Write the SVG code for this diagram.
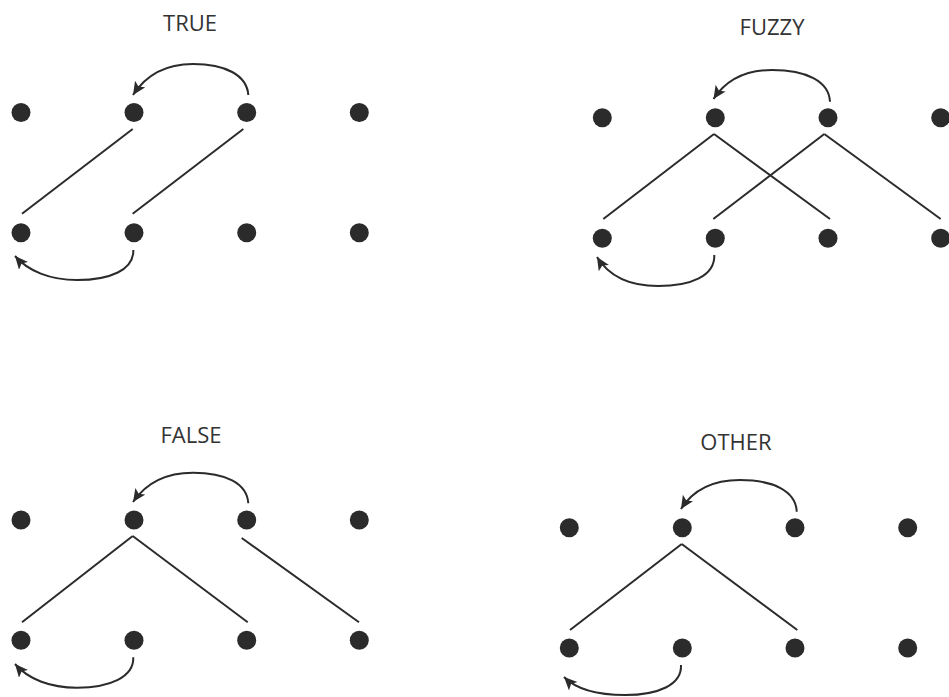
<svg xmlns="http://www.w3.org/2000/svg" width="949" height="697" viewBox="0 0 949 697">
<style>
.dot{fill:#2b2b2b}
.ln{stroke:#2b2b2b;stroke-width:2;fill:none}
.arc{stroke:#2b2b2b;stroke-width:2;fill:none;marker-end:url(#ah)}
.lbl{font-family:"Open Sans","Liberation Sans",sans-serif;font-size:22px;fill:#333;text-anchor:middle}
</style>
<defs>
<marker id="ah" markerUnits="userSpaceOnUse" markerWidth="16" markerHeight="14" refX="13" refY="6" orient="auto"><path d="M0,0 L13,6 L0,12 L3,6 Z" fill="#2b2b2b"/></marker>
</defs>
<rect width="949" height="697" fill="#fff"/>
<g id="labels">
<text class="lbl" x="190" y="31">TRUE</text>
<text class="lbl" x="772" y="35">FUZZY</text>
<text class="lbl" x="191" y="443">FALSE</text>
<text class="lbl" x="736" y="450">OTHER</text>
</g>
<g id="true-panel">
<g id="t-a1"><circle class="dot" cx="21" cy="112.5" r="9.5"/></g>
<g id="t-a2"><circle class="dot" cx="134" cy="112.5" r="9.5"/></g>
<g id="t-a3"><circle class="dot" cx="246.7" cy="112.5" r="9.5"/></g>
<g id="t-a4"><circle class="dot" cx="359.3" cy="112.5" r="9.5"/></g>
<g id="t-b1"><circle class="dot" cx="21" cy="232.7" r="9.5"/></g>
<g id="t-b2"><circle class="dot" cx="134" cy="232.7" r="9.5"/></g>
<g id="t-b3"><circle class="dot" cx="246.7" cy="232.7" r="9.5"/></g>
<g id="t-b4"><circle class="dot" cx="359.3" cy="232.7" r="9.5"/></g>
</g>
<g id="fuzzy-panel">
<g id="f-a1"><circle class="dot" cx="602.3" cy="117.7" r="9.5"/></g>
<g id="f-a2"><circle class="dot" cx="715.3" cy="117.7" r="9.5"/></g>
<g id="f-a3"><circle class="dot" cx="828" cy="117.7" r="9.5"/></g>
<g id="f-a4"><circle class="dot" cx="940.7" cy="117.7" r="9.5"/></g>
<g id="f-b1"><circle class="dot" cx="602.3" cy="238.3" r="9.5"/></g>
<g id="f-b2"><circle class="dot" cx="715.3" cy="238.3" r="9.5"/></g>
<g id="f-b3"><circle class="dot" cx="828" cy="238.3" r="9.5"/></g>
<g id="f-b4"><circle class="dot" cx="940.7" cy="238.3" r="9.5"/></g>
</g>
<g id="false-panel">
<g id="x-a1"><circle class="dot" cx="21" cy="520" r="9.5"/></g>
<g id="x-a2"><circle class="dot" cx="134" cy="520" r="9.5"/></g>
<g id="x-a3"><circle class="dot" cx="246.7" cy="520" r="9.5"/></g>
<g id="x-a4"><circle class="dot" cx="359.3" cy="520" r="9.5"/></g>
<g id="x-b1"><circle class="dot" cx="21" cy="640.3" r="9.5"/></g>
<g id="x-b2"><circle class="dot" cx="134" cy="640.3" r="9.5"/></g>
<g id="x-b3"><circle class="dot" cx="246.7" cy="640.3" r="9.5"/></g>
<g id="x-b4"><circle class="dot" cx="359.3" cy="640.3" r="9.5"/></g>
</g>
<g id="other-panel">
<g id="o-a1"><circle class="dot" cx="569.3" cy="527.7" r="9.5"/></g>
<g id="o-a2"><circle class="dot" cx="682.3" cy="527.7" r="9.5"/></g>
<g id="o-a3"><circle class="dot" cx="795" cy="527.7" r="9.5"/></g>
<g id="o-a4"><circle class="dot" cx="907.7" cy="527.7" r="9.5"/></g>
<g id="o-b1"><circle class="dot" cx="569.3" cy="648" r="9.5"/></g>
<g id="o-b2"><circle class="dot" cx="682.3" cy="648" r="9.5"/></g>
<g id="o-b3"><circle class="dot" cx="795" cy="648" r="9.5"/></g>
<g id="o-b4"><circle class="dot" cx="907.7" cy="648" r="9.5"/></g>
</g>
<g id="connectors">
<line class="ln" x1="132.7" y1="129" x2="22" y2="213.7"/>
<line class="ln" x1="243.3" y1="129" x2="132.7" y2="213.7"/>
<path class="arc" d="M248.3,95 C247,75 225,64 193,64 C165,64 146,75 133,95"/>
<path class="arc" d="M133.3,250 C134,270 110,280 77,280 C50,280 28,271 15,256"/>

<line class="ln" x1="714" y1="134" x2="603.3" y2="219"/>
<line class="ln" x1="714" y1="134" x2="830" y2="219"/>
<line class="ln" x1="824.3" y1="134" x2="713.3" y2="219"/>
<line class="ln" x1="824.3" y1="134" x2="940.7" y2="219"/>
<path class="arc" d="M830,101.7 C829,81 806,70 772,70 C745,70 726,80 713.5,99"/>
<path class="arc" d="M714.3,255 C715,276 691,286 658,286 C631,286 610,278 597,257"/>

<line class="ln" x1="132.7" y1="536" x2="22" y2="622.3"/>
<line class="ln" x1="132.7" y1="536" x2="247.7" y2="622.3"/>
<line class="ln" x1="241.7" y1="538" x2="359" y2="622.3"/>
<path class="arc" d="M248.3,503.3 C247,483 225,472.7 193,472.7 C165,472.7 146,483 133,502"/>
<path class="arc" d="M133.3,657.3 C134,677 110,687.7 77,687.7 C50,687.7 28,679 15,664"/>

<line class="ln" x1="681.7" y1="544" x2="570" y2="630"/>
<line class="ln" x1="681.7" y1="544" x2="797.3" y2="630"/>
<path class="arc" d="M796.7,511.7 C796,491 773,480 740,480 C712,480 693,490 681,509"/>
<path class="arc" d="M681,665 C682,685 658,695 625,695 C598,695 577,690 564,677"/>
</g>
</svg>
